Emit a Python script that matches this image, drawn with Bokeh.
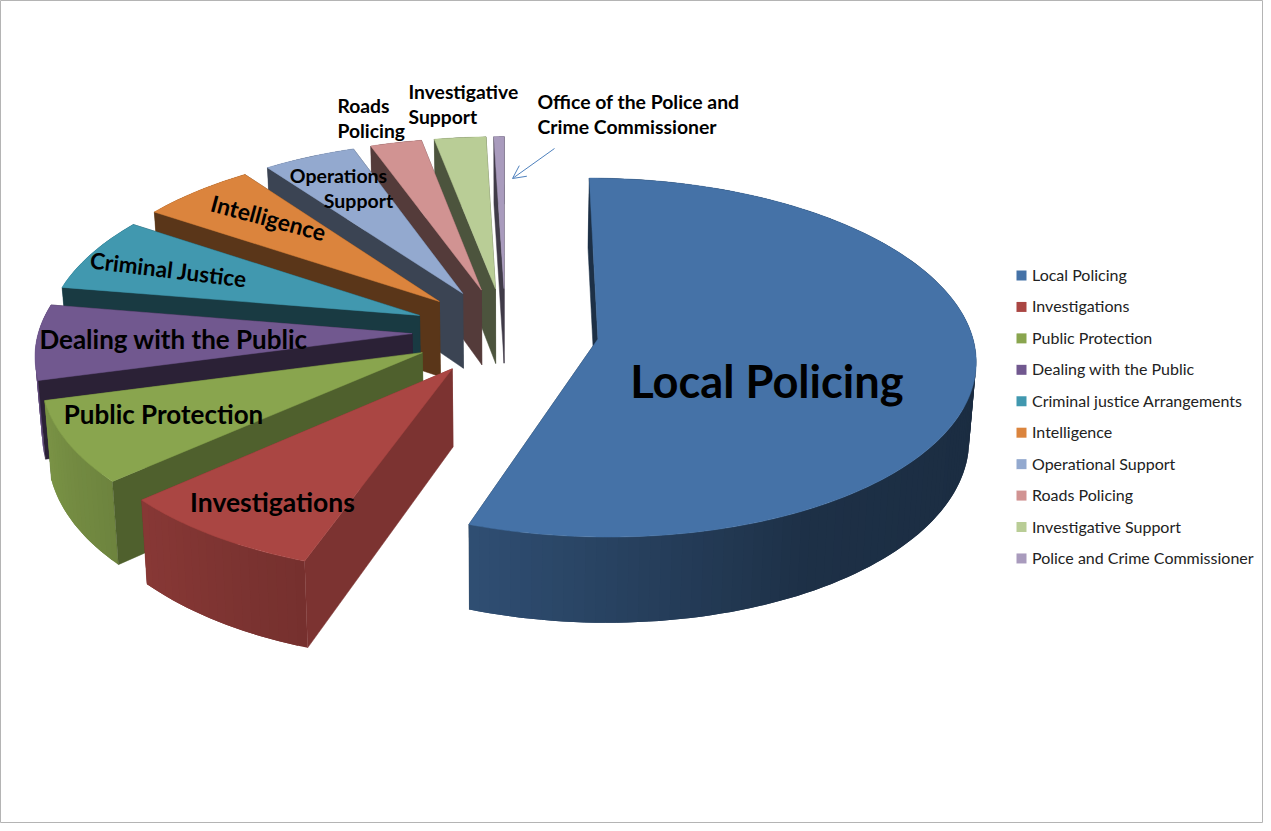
import numpy as np
from bokeh.plotting import figure
from bokeh.models import Range1d, Arrow, OpenHead
from bokeh.core.properties import value
from bokeh.embed import file_html
from bokeh.resources import INLINE

# ---- data ----
legend_names = ["Local Policing", "Investigations", "Public Protection", "Dealing with the Public",
                "Criminal justice Arrangements", "Intelligence", "Operational Support", "Roads Policing",
                "Investigative Support", "Police and Crime Commissioner"]
shares = [55.4, 8.0, 7.4, 6.8, 6.75, 5.6, 4.5, 2.5, 2.5, 0.5]

# ---- styles ----
top_colors = ["#4572A7", "#AA4643", "#89A54E", "#71588F", "#4198AF", "#DB843D", "#93A9CF", "#D19392", "#B9CD96", "#A99BBD"]
face_factor = [0.42, 0.73, 0.58, 0.38, 0.38, 0.41, 0.40, 0.40, 0.41, 0.38]
shade_deg = [0, 90, 150, 199, 228, 256, 300, 360]
shade_val = [0.40, 0.38, 0.42, 0.69, 0.80, 0.90, 0.55, 0.40]
FONT = "Lato"

# ---- projection of the tilted, exploded pie ----
CX, CY, RX, RY, PERSP, DEPTH, EXPLODE, BOTTOM = 505.0, 331.0, 373.5, 176.0, 0.103, 76.5, 0.25, 0.985


def project(wx, wy, low=False):
    f = 1.0 / (1.0 - PERSP * wy)
    s = BOTTOM if low else 1.0
    return CX + RX * wx * f * s, CY + RY * wy * f + (DEPTH * f if low else 0.0)


def rgb(hexstr, k):
    c = [int(hexstr[i:i + 2], 16) for i in (1, 3, 5)]
    return "#%02x%02x%02x" % tuple(int(round(min(255, v * k))) for v in c)


p = figure(width=1263, height=823, output_backend="svg", toolbar_location=None,
           x_range=Range1d(0, 1263), y_range=Range1d(823, 0), min_border=0,
           background_fill_color="white", border_fill_color="white", outline_line_color="#b4b4b4")
p.axis.visible = False
p.grid.visible = False

fractions = np.array(shares, dtype=float) / np.sum(shares)
edges = np.concatenate([[0.0], np.cumsum(fractions)]) * 360.0

# painter's order: far slices first, the largest slice last
for i in [9, 8, 7, 6, 5, 4, 3, 2, 1, 0]:
    a0, a1 = edges[i], edges[i + 1]
    mid = np.radians((a0 + a1) / 2)
    ox, oy = EXPLODE * np.sin(mid), -EXPLODE * np.cos(mid)
    col = top_colors[i]
    dark = rgb(col, face_factor[i])


    def rim(deg, low=False):
        t = np.radians(deg)
        return project(ox + np.sin(t), oy - np.cos(t), low)


    def face(deg):
        pts = [project(ox, oy), rim(deg), rim(deg, True), project(ox, oy, True)]
        p.patch([q[0] for q in pts], [q[1] for q in pts], fill_color=dark, line_color=dark, line_width=0.5)


    # the radial face at the end of the sweep lies behind the wall
    face(a1)

    # outer wall, in narrow overlapping strips for the shading
    steps = max(2, int(np.ceil((a1 - a0) / 1.5)))
    ts = np.linspace(a0, a1, steps + 1)
    xs, ys, cs = [], [], []
    for k in range(steps):
        d0, d1 = ts[k], ts[min(k + 2, steps)]
        pts = [rim(d0 + (d1 - d0) * u) for u in (0, 0.5, 1)] + [rim(d0 + (d1 - d0) * u, True) for u in (1, 0.5, 0)]
        xs.append([q[0] for q in pts])
        ys.append([q[1] for q in pts])
        cs.append(rgb(col, float(np.interp(ts[k], shade_deg, shade_val))))
    p.patches(xs, ys, fill_color=cs, line_color=None)

    # the radial face at the start of the sweep covers the back of the wall
    face(a0)

    # top
    ts = np.linspace(a0, a1, max(3, int(a1 - a0) + 2))
    pts = [project(ox, oy)] + [rim(d) for d in ts]
    p.patch([q[0] for q in pts], [q[1] for q in pts], fill_color=col, line_color=col, line_width=0.5)

# ---- labels on the pie ----
pie_labels = [
    ("Local Policing", 766.5, 379.5, 45.2, 0, "center"),
    ("Investigations", 272, 501, 26.5, 0, "center"),
    ("Public Protection", 163, 413, 26, 0, "center"),
    ("Dealing with the Public", 173, 338, 26, 0, "center"),
    ("Criminal Justice", 168, 269, 22.5, -7, "center"),
    ("Intelligence", 268, 217, 23, -15, "center"),
    ("Operations", 338, 175, 19.5, 0, "center"),
    ("Support", 358, 200, 19.5, 0, "center"),
    ("Roads", 337, 105, 19.3, 0, "left"),
    ("Policing", 337, 130, 19.3, 0, "left"),
    ("Investigative", 408, 91, 19.3, 0, "left"),
    ("Support", 408, 116, 19.3, 0, "left"),
    ("Office of the Police and", 537, 101, 19.4, 0, "left"),
    ("Crime Commissioner", 537, 126, 19.4, 0, "left"),
]
for txt, x, y, size, ang, al in pie_labels:
    p.text([x], [y], text=[txt], text_font=value(FONT), text_font_style="bold",
           text_font_size=f"{size}px", text_color="#000000", text_align=al,
           text_baseline="middle", angle=ang, angle_units="deg")

p.add_layout(Arrow(end=OpenHead(size=13, line_color="#4F81BD", line_width=1),
                   x_start=554, y_start=148, x_end=512, y_end=178,
                   line_color="#4F81BD", line_width=1))

# ---- legend ----
leg_y = [275 + 31.44 * k for k in range(len(legend_names))]
p.scatter([1021] * len(leg_y), leg_y, marker="square", size=10, fill_color=top_colors, line_color=None)
p.text([1031.5] * len(leg_y), [y - 1 for y in leg_y], text=legend_names, text_font=value(FONT), text_font_size="16px",
       text_color="#222222", text_align="left", text_baseline="middle")

open("out.html", "w").write(file_html(p, INLINE))
